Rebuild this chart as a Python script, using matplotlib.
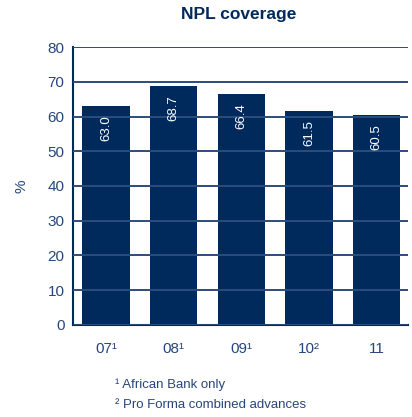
import matplotlib
matplotlib.use("Agg")
import matplotlib.pyplot as plt
from matplotlib import font_manager

names = {f.name for f in font_manager.fontManager.ttflist}
base = "Liberation Sans Narrow" if "Liberation Sans Narrow" in names else "Liberation Sans"
plt.rcParams["font.family"] = [base, "DejaVu Sans"]

categories = ["07¹", "08¹", "09¹", "10²", "11"]
coverage = [63.0, 68.7, 66.4, 61.5, 60.5]
yticks = [0, 10, 20, 30, 40, 50, 60, 70, 80]
footnotes = ["¹ African Bank only", "² Pro Forma combined advances"]

navy = "#002a5c"
grid_c = "#2b4c7e"
text_c = "#27467a"

fig = plt.figure(figsize=(4.12, 4.17), dpi=100)
ax = fig.add_axes([0.177, 0.221, 0.813, 0.666])

x = range(len(categories))
bars = ax.bar(x, coverage, width=0.7, color=navy, zorder=2)
for xi, v in zip(x, coverage):
    ax.text(xi, v - 2.6, f"{v:.1f}", rotation=90, ha="center", va="top",
            color="white", fontsize=9.5, zorder=4)

ax.set_ylim(0, 80)
ax.set_xlim(-0.49, 4.46)
ax.set_yticks(yticks)
ax.yaxis.grid(True, color=grid_c, linewidth=1.4, zorder=3)
ax.set_axisbelow(False)
ax.set_xticks(list(x))
ax.set_xticklabels(categories)
ax.tick_params(axis="both", length=0, labelsize=11, colors=text_c, pad=6)
ax.tick_params(axis="x", pad=12)
for s in ["top", "right"]:
    ax.spines[s].set_visible(False)
for s in ["left", "bottom"]:
    ax.spines[s].set_color(navy)
    ax.spines[s].set_linewidth(1.5)
ax.set_ylabel("%", color=text_c, fontsize=11, labelpad=14)

fig.text(0.58, 0.965, "NPL coverage", ha="center", va="center",
         fontsize=12.5, fontweight="bold", color=navy)
fig.text(0.28, 0.077, footnotes[0], ha="left", va="center", fontsize=9.5, color=text_c)
fig.text(0.28, 0.028, footnotes[1], ha="left", va="center", fontsize=9.5, color=text_c)

fig.savefig("out.png", dpi=100)
